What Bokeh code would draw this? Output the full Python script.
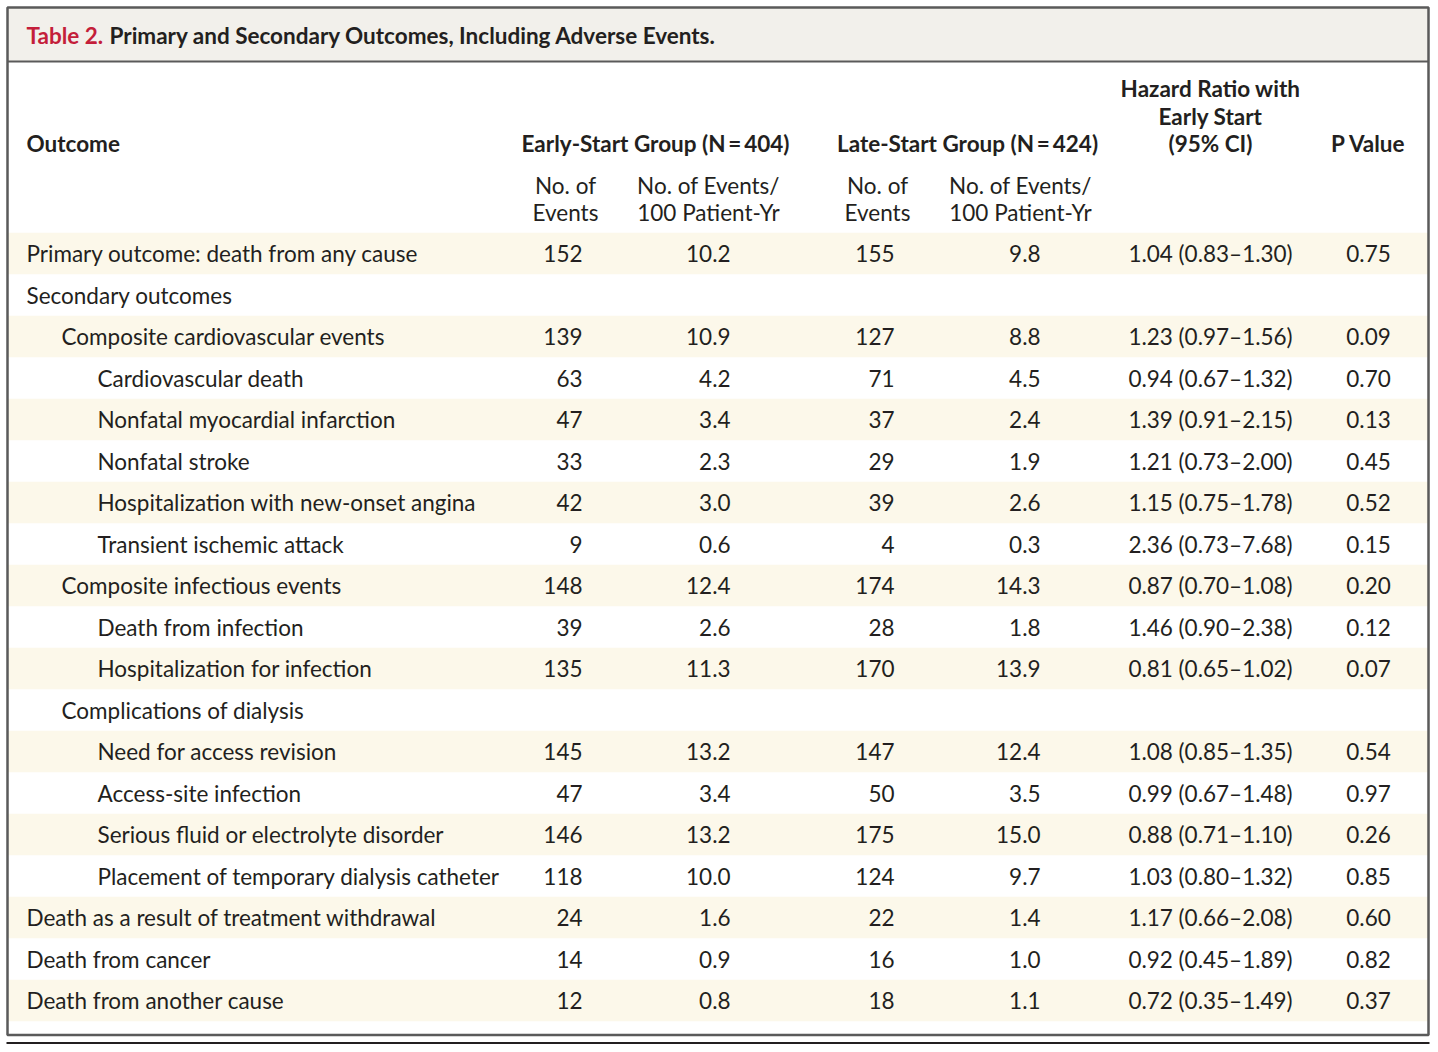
from bokeh.plotting import figure
from bokeh.models import ColumnDataSource, Range1d
from bokeh.core.properties import value
from bokeh.embed import file_html
from bokeh.resources import INLINE

# ---------------- data ----------------
outcomes = [
    "Primary outcome: death from any cause",
    "Secondary outcomes",
    "Composite cardiovascular events",
    "Cardiovascular death",
    "Nonfatal myocardial infarction",
    "Nonfatal stroke",
    "Hospitalization with new-onset angina",
    "Transient ischemic attack",
    "Composite infectious events",
    "Death from infection",
    "Hospitalization for infection",
    "Complications of dialysis",
    "Need for access revision",
    "Access-site infection",
    "Serious fluid or electrolyte disorder",
    "Placement of temporary dialysis catheter",
    "Death as a result of treatment withdrawal",
    "Death from cancer",
    "Death from another cause",
]
levels = [0, 0, 1, 2, 2, 2, 2, 2, 1, 2, 2, 1, 2, 2, 2, 2, 0, 0, 0]
early_events = [152, None, 139, 63, 47, 33, 42, 9, 148, 39, 135, None, 145, 47, 146, 118, 24, 14, 12]
early_rate = [10.2, None, 10.9, 4.2, 3.4, 2.3, 3.0, 0.6, 12.4, 2.6, 11.3, None, 13.2, 3.4, 13.2, 10.0, 1.6, 0.9, 0.8]
late_events = [155, None, 127, 71, 37, 29, 39, 4, 174, 28, 170, None, 147, 50, 175, 124, 22, 16, 18]
late_rate = [9.8, None, 8.8, 4.5, 2.4, 1.9, 2.6, 0.3, 14.3, 1.8, 13.9, None, 12.4, 3.5, 15.0, 9.7, 1.4, 1.0, 1.1]
hazard_ratio = [1.04, None, 1.23, 0.94, 1.39, 1.21, 1.15, 2.36, 0.87, 1.46, 0.81, None, 1.08, 0.99, 0.88, 1.03, 1.17, 0.92, 0.72]
ci_low = [0.83, None, 0.97, 0.67, 0.91, 0.73, 0.75, 0.73, 0.70, 0.90, 0.65, None, 0.85, 0.67, 0.71, 0.80, 0.66, 0.45, 0.35]
ci_high = [1.30, None, 1.56, 1.32, 2.15, 2.00, 1.78, 7.68, 1.08, 2.38, 1.02, None, 1.35, 1.48, 1.10, 1.32, 2.08, 1.89, 1.49]
p_values = [0.75, None, 0.09, 0.70, 0.13, 0.45, 0.52, 0.15, 0.20, 0.12, 0.07, None, 0.54, 0.97, 0.26, 0.85, 0.60, 0.82, 0.37]

title_red = "Table 2."
title_rest = "Primary and Secondary Outcomes, Including Adverse Events."
col_outcome = "Outcome"
group_early = "Early-Start Group (N\u2009=\u2009404)"
group_late = "Late-Start Group (N\u2009=\u2009424)"
hr_header = ["Hazard Ratio with", "Early Start", "(95% CI)"]
p_header = "P Value"
sub_events = ["No. of", "Events"]
sub_rate = ["No. of Events/", "100 Patient-Yr"]

# ---------------- layout / style ----------------
FONT = "Lato"
TXT = "#231f20"
FS = "22.5px"
W, H = 1430, 1044
X0, Y0 = 1, 1

p = figure(width=W, height=H, output_backend="svg", toolbar_location=None,
           x_range=Range1d(X0, X0 + W), y_range=Range1d(Y0 + H, Y0),
           min_border=0, outline_line_color=None, background_fill_color="white")
p.axis.visible = False
p.grid.visible = False

n = len(outcomes)
row0, step = 254.0, 41.5
ys = [row0 + i * step for i in range(n)]

L, R = 8.0, 1429.0
TOP, BOT = 8.0, 1035.5

# title bar
p.quad(left=[L], right=[R], top=[TOP], bottom=[62], fill_color="#f2f0eb", line_color=None)

# stripes
stripe_y = [ys[i] for i in range(n) if i % 2 == 0]
p.quad(left=[L] * len(stripe_y), right=[R] * len(stripe_y),
       top=[y - step / 2 for y in stripe_y], bottom=[y + step / 2 for y in stripe_y],
       fill_color="#fcf8ea", line_color=None)

# lines
p.segment(x0=[L], y0=[62], x1=[R], y1=[62], line_color="#5a5a5a", line_width=2)
p.quad(left=[L], right=[R], top=[TOP], bottom=[BOT], fill_color=None,
       line_color="#5a5a5a", line_width=2.5)
p.segment(x0=[L - 1], y0=[1043.5], x1=[R + 1], y1=[1043.5], line_color="#231f20", line_width=2)

def txt(x, y, t, align="left", bold=False, color=TXT, size=FS):
    p.text(x=x, y=y, text=t, text_align=align, text_baseline="middle",
           text_font=value(FONT), text_font_size=size,
           text_font_style="bold" if bold else "normal", text_color=color)

# title
txt([27], [36], [title_red], bold=True, color="#c41e3a", size="22.5px")
txt([110], [36], [title_rest], bold=True, size="22.5px")

# headers
txt([27], [144], [col_outcome], bold=True)
txt([656], [144], [group_early], align="center", bold=True)
txt([968], [144], [group_late], align="center", bold=True)
txt([1211] * 3, [89, 117, 144], hr_header, align="center", bold=True)
txt([1369], [144], [p_header], align="center", bold=True)
txt([566, 566], [186, 213], sub_events, align="center")
txt([709, 709], [186, 213], sub_rate, align="center")
txt([878, 878], [186, 213], sub_events, align="center")
txt([1021, 1021], [186, 213], sub_rate, align="center")

# body
indent = {0: 27, 1: 62, 2: 98}
src = ColumnDataSource(dict(
    x=[indent[l] for l in levels], y=ys, t=outcomes))
p.text(x="x", y="y", text="t", source=src, text_align="left", text_baseline="middle",
       text_font=value(FONT), text_font_size=FS, text_color=TXT)

def fmt(v, f):
    return "" if v is None else f(v)

cols = [
    (583, [fmt(v, lambda a: f"{a:d}") for v in early_events], "right"),
    (731, [fmt(v, lambda a: f"{a:.1f}") for v in early_rate], "right"),
    (895, [fmt(v, lambda a: f"{a:d}") for v in late_events], "right"),
    (1041, [fmt(v, lambda a: f"{a:.1f}") for v in late_rate], "right"),
    (1211, ["" if h is None else f"{h:.2f} ({lo:.2f}\u2013{hi:.2f})"
            for h, lo, hi in zip(hazard_ratio, ci_low, ci_high)], "center"),
    (1369, [fmt(v, lambda a: f"{a:.2f}") for v in p_values], "center"),
]
for cx, vals, al in cols:
    s = ColumnDataSource(dict(x=[cx] * n, y=ys, t=vals))
    p.text(x="x", y="y", text="t", source=s, text_align=al, text_baseline="middle",
           text_font=value(FONT), text_font_size=FS, text_color=TXT)

open("out.html", "w").write(file_html(p, INLINE))
